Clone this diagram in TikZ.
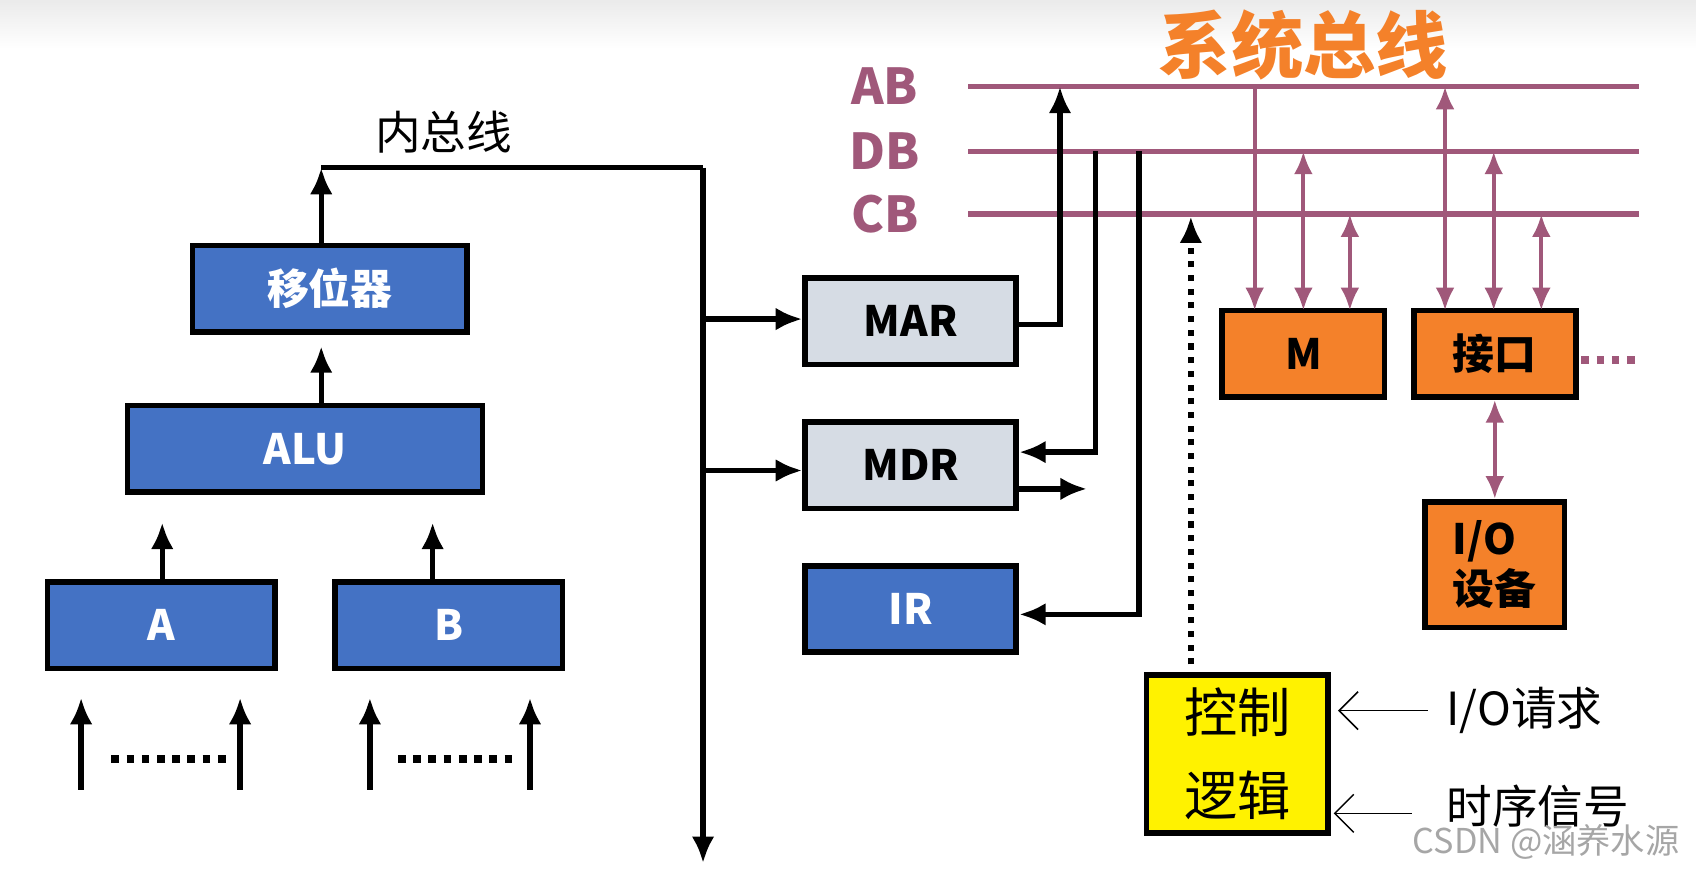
\documentclass[tikz,border=0pt]{standalone}
\usepackage{fontspec}
\setmainfont{Noto Sans CJK SC}
\usetikzlibrary{arrows.meta, positioning}
\definecolor{regblue}{HTML}{4472C4}
\definecolor{reggray}{HTML}{D6DCE4}
\definecolor{devorange}{HTML}{F4812A}
\definecolor{busred}{HTML}{A0587A}
\begin{document}
\begin{tikzpicture}[x=0.01cm,y=-0.01cm,
    box/.style={draw=black,line width=1.5pt,minimum height=0.8cm,font=\bfseries\fontsize{11}{13}\selectfont},
    blue/.style={box,fill=regblue,text=white},
    gray/.style={box,fill=reggray},
    dev/.style={box,fill=devorange},
    arr/.style={line width=1.4pt,-{Latex[length=7pt,width=6pt]}},
    bus/.style={line width=1.5pt,busred},
    busarr/.style={line width=1.1pt,busred,{Latex[length=6pt,width=5pt]}-{Latex[length=6pt,width=5pt]}},
    lbl/.style={font=\fontsize{12}{14}\selectfont}]
  \useasboundingbox (0,0) rectangle (1568,807);
  \fill[top color=black!8,bottom color=white] (0,0) rectangle (1568,45);

  % ALU side
  \node[blue,minimum width=2.54cm] (shift) at (305,267) {移位器};
  \node[blue,minimum width=3.28cm] (alu) at (282,415) {ALU};
  \node[blue,minimum width=2.1cm] (a) at (149,578) {A};
  \node[blue,minimum width=2.1cm] (b) at (415,578) {B};
  \draw[arr] (150,538) -- (150,483);
  \draw[arr] (400,538) -- (400,483);
  \draw[arr] (297,376) -- (297,320);
  \foreach \x in {75,222,342,490} \draw[arr] (\x,730) -- (\x,645);
  \draw[line width=2pt,dotted] (103,702) -- (212,702);
  \draw[line width=2pt,dotted] (368,702) -- (480,702);

  % internal bus
  \coordinate (ib) at (650,155);
  \draw[arr] (297,228) -- (297,155);
  \draw[line width=1.4pt] (297,155) -- (ib);
  \draw[arr] (ib) -- (650,798);
  \node[lbl] (ibl) at (410,122) {内总线};

  % registers
  \node[gray,minimum width=1.95cm] (mar) at (842,297) {MAR};
  \node[gray,minimum width=1.95cm] (mdr) at (842,430) {MDR};
  \node[blue,minimum width=1.95cm] (ir) at (842,563) {IR};
  \draw[arr] (650,295) -- (mar.west |- 0,295);
  \draw[arr] (650,435) -- (mdr.west |- 0,435);

  % system bus
  \coordinate (ab) at (895,80);
  \coordinate (db) at (895,140);
  \coordinate (cb) at (895,198);
  \draw[bus] (ab) -- (1515,80);
  \draw[bus] (db) -- (1515,140);
  \draw[bus] (cb) -- (1515,198);
  \node[lbl,busred,font=\bfseries\fontsize{13}{15}\selectfont] at (818,80) {AB};
  \node[lbl,busred,font=\bfseries\fontsize{13}{15}\selectfont] at (818,140) {DB};
  \node[lbl,busred,font=\bfseries\fontsize{13}{15}\selectfont] at (818,198) {CB};
  \node[font=\bfseries\fontsize{19}{21}\selectfont,devorange] (sys) at (1205,42) {系统总线};

  \draw[arr] (mar.east |- 0,300) -- (980,300) -- (980,80);
  \draw[arr] (1013,140) -- (1013,418) -- (mdr.east |- 0,418);
  \draw[arr] (mdr.east |- 0,452) -- (1005,452);
  \draw[arr] (1053,140) -- (1053,568) -- (ir.east |- 0,568);

  % memory and interface
  \node[dev,minimum width=1.5cm] (m) at (1205,327) {M};
  \node[dev,minimum width=1.5cm] (port) at (1382,327) {接口};
  \node[dev,minimum width=1.29cm,minimum height=1.16cm,align=left] (io) at (1382,522) {I/O\\设备};
  \draw[line width=1.1pt,busred,-{Latex[length=6pt,width=5pt]}] (1160,80) -- (1160,287);
  \draw[busarr] (1205,140) -- (1205,287);
  \draw[busarr] (1248,198) -- (1248,287);
  \draw[busarr] (1336,80) -- (1336,287);
  \draw[busarr] (1381,140) -- (1381,287);
  \draw[busarr] (1425,198) -- (1425,287);
  \draw[busarr] (port.south) -- (io.north);
  \draw[line width=2pt,dotted,busred] (1462,333) -- (1515,333);

  % control logic
  \node[box,fill=yellow,minimum width=1.68cm,minimum height=1.4cm,align=left,font=\fontsize{14}{22}\selectfont] (ctl) at (1144,697) {控制\\逻辑};
  \draw[line width=1.6pt,dotted,-{Latex[length=7pt,width=6pt]}] (1101,627) -- (1101,200);
  \draw[-{Straight Barb[length=5pt]}] (1320,657) -- (1237,657);
  \draw[-{Straight Barb[length=5pt]}] (1305,752) -- (1233,752);
  \node[lbl,anchor=west] (req) at (1325,657) {I/O请求};
  \node[lbl,anchor=west] (clk) at (1325,745) {时序信号};
  \node[black!35,font=\fontsize{9}{11}\selectfont,anchor=east] (wm) at (1565,778) {CSDN @涵养水源};
\end{tikzpicture}
\end{document}
